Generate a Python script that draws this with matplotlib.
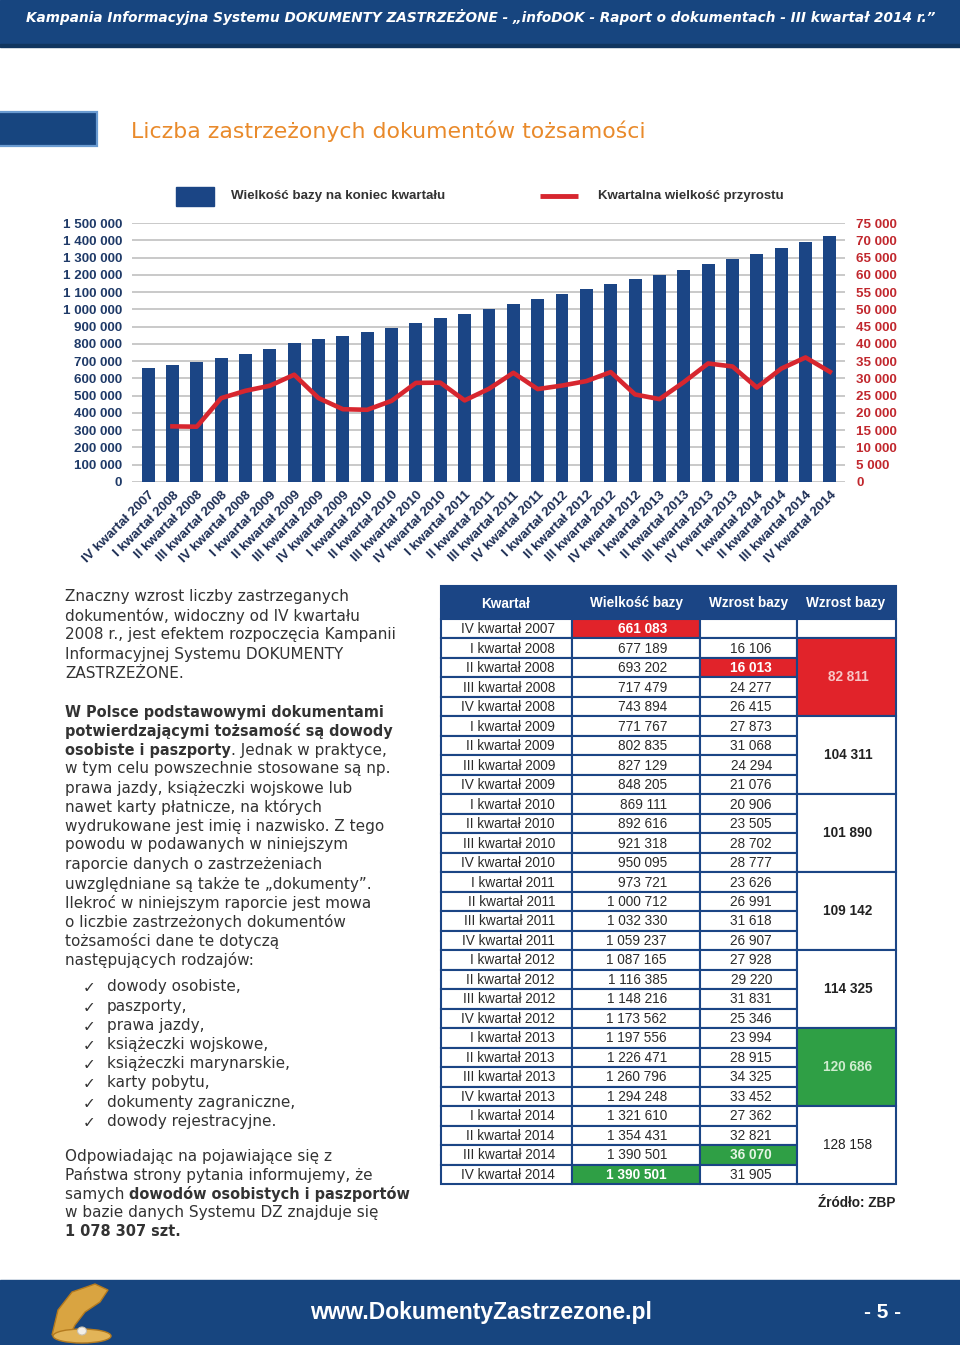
import matplotlib
matplotlib.use("Agg")
import matplotlib.pyplot as plt
from matplotlib.patches import Rectangle, Ellipse, Polygon
from matplotlib.ticker import FuncFormatter
import numpy as np

plt.rcParams['font.family'] = ['Liberation Sans', 'DejaVu Sans']

# ---------------- data ----------------
quarters = ["IV kwartał 2007",
            "I kwartał 2008", "II kwartał 2008", "III kwartał 2008", "IV kwartał 2008",
            "I kwartał 2009", "II kwartał 2009", "III kwartał 2009", "IV kwartał 2009",
            "I kwartał 2010", "II kwartał 2010", "III kwartał 2010", "IV kwartał 2010",
            "I kwartał 2011", "II kwartał 2011", "III kwartał 2011", "IV kwartał 2011",
            "I kwartał 2012", "II kwartał 2012", "III kwartał 2012", "IV kwartał 2012",
            "I kwartał 2013", "II kwartał 2013", "III kwartał 2013", "IV kwartał 2013",
            "I kwartał 2014", "II kwartał 2014", "III kwartał 2014", "IV kwartał 2014"]
chart_base = [661083, 677189, 693202, 717479, 743894, 771767, 802835, 827129, 848205,
              869111, 892616, 921318, 950095, 973721, 1000712, 1032330, 1059237,
              1087165, 1116385, 1148216, 1173562, 1197556, 1226471, 1260796, 1294248,
              1321610, 1354431, 1390501, 1422406]
table_base = [661083, 677189, 693202, 717479, 743894, 771767, 802835, 827129, 848205,
              869111, 892616, 921318, 950095, 973721, 1000712, 1032330, 1059237,
              1087165, 1116385, 1148216, 1173562, 1197556, 1226471, 1260796, 1294248,
              1321610, 1354431, 1390501, 1390501]
growth = [None, 16106, 16013, 24277, 26415, 27873, 31068, 24294, 21076, 20906, 23505,
          28702, 28777, 23626, 26991, 31618, 26907, 27928, 29220, 31831, 25346, 23994,
          28915, 34325, 33452, 27362, 32821, 36070, 31905]
annual_growth = [82811, 104311, 101890, 109142, 114325, 120686, 128158]
left_ticks = list(range(0, 1500001, 100000))
right_ticks = list(range(0, 75001, 5000))
table_header = ["Kwartał", "Wielkość bazy", "Wzrost bazy", "Wzrost bazy"]

# ---------------- colours ----------------
NAVY = '#1b4585'
BAND = '#17457f'
RED_LINE = '#d7262f'
RED_CELL = '#e1232a'
GREEN_CELL = '#2f9f45'
ORANGE = '#e98a2b'
TXT = '#333333'
LEFT_TXT = '#1f3a68'
RIGHT_TXT = '#c1272d'
XLBL = '#1e2f55'
BODY_FONT = ['DejaVu Sans']

W, H = 960, 1345
fig = plt.figure(figsize=(W / 100, H / 100), dpi=100)
fig.patch.set_facecolor('white')
bg = fig.add_axes([0, 0, 1, 1], zorder=0)
bg.set_xlim(0, W)
bg.set_ylim(H, 0)
bg.axis('off')
renderer = fig.canvas.get_renderer()


def fmt(v):
    return f"{int(round(v)):,}".replace(",", " ")


def measure(s, size, **kw):
    t = bg.text(0, 0, s, fontsize=size, **kw)
    w = t.get_window_extent(renderer=renderer).width
    t.remove()
    return w


def fit_text(x, y, s, target_w, **kw):
    w = measure(s, 10, **{k: v for k, v in kw.items() if k in ('fontweight', 'family', 'fontstyle')})
    size = 10 * target_w / w
    return bg.text(x, y, s, fontsize=size, **kw)


# ---------------- header band ----------------
bg.add_patch(Rectangle((0, 0), W, 46, color=BAND, zorder=1))
bg.add_patch(Rectangle((0, 44), W, 3, color='#10355f', zorder=1))
fit_text(26, 17, "Kampania Informacyjna Systemu DOKUMENTY ZASTRZEŻONE - „infoDOK - Raport o dokumentach - III kwartał 2014 r.”",
         904, family=['DejaVu Sans'], fontstyle='italic', fontweight='bold', color='white',
         ha='left', va='center', zorder=2)

# ---------------- title ----------------
bg.add_patch(Rectangle((-2, 112), 99, 34, facecolor=BAND, edgecolor='#6a9bd1', lw=1.6, zorder=1))
fit_text(131, 131, "Liczba zastrzeżonych dokumentów tożsamości", 514,
         family=['DejaVu Sans'], color=ORANGE, ha='left', va='center', zorder=2)

# ---------------- legend ----------------
bg.add_patch(Rectangle((176, 187), 38, 19, color=NAVY, zorder=2))
fit_text(231, 196, "Wielkość bazy na koniec kwartału", 214, fontweight='bold',
         color=TXT, ha='left', va='center')
bg.plot([540, 578], [196, 196], color=RED_LINE, lw=3.5, solid_capstyle='butt')
fit_text(598, 196, "Kwartalna wielkość przyrostu", 187, fontweight='bold',
         color=TXT, ha='left', va='center')

# ---------------- chart ----------------
ax = fig.add_axes([132 / W, 1 - 482 / H, (845 - 132) / W, (482 - 223) / H], zorder=2)
ax.patch.set_alpha(0)
x = np.arange(len(quarters))
ax.bar(x, chart_base, width=0.53, color=NAVY, zorder=3)
ax.set_xlim(-0.66, 28.62)
ax.set_ylim(0, 1500000)
ax.set_yticks(left_ticks)
ax.yaxis.set_major_formatter(FuncFormatter(lambda v, p: fmt(v)))
ax.grid(axis='y', color='#c9c9c9', lw=1.4, zorder=0)
ax.set_axisbelow(True)
for s in ax.spines.values():
    s.set_visible(False)
ax.tick_params(axis='y', length=0, pad=7, labelsize=9.6, labelcolor=LEFT_TXT)
for lbl in ax.get_yticklabels():
    lbl.set_fontweight('bold')
ax.set_xticks(x)
ax.set_xticklabels(quarters, rotation=45, ha='right', rotation_mode='anchor',
                   fontsize=9.6, fontweight='bold', color=XLBL)
ax.tick_params(axis='x', length=0, pad=5)

ax2 = ax.twinx()
gx = [i for i, g in enumerate(growth) if g is not None]
gy = [g for g in growth if g is not None]
ax2.plot(gx, gy, color=RED_LINE, lw=3.3, solid_joinstyle='round', zorder=4)
ax2.set_ylim(0, 75000)
ax2.set_yticks(right_ticks)
ax2.yaxis.set_major_formatter(FuncFormatter(lambda v, p: fmt(v)))
for s in ax2.spines.values():
    s.set_visible(False)
ax2.tick_params(axis='y', length=0, pad=8, labelsize=9.6, labelcolor=RIGHT_TXT)
for lbl in ax2.get_yticklabels():
    lbl.set_fontweight('bold')

# ---------------- table ----------------
col_x = [441, 572, 700, 797, 896]
head_top, head_bot = 586, 619
row_h = (1184 - head_bot) / len(quarters)
TFS = 9.8
bg.add_patch(Rectangle((col_x[0], head_top), col_x[-1] - col_x[0], head_bot - head_top,
                       facecolor=NAVY, edgecolor=NAVY, lw=1.5, zorder=2))
head_cx = [506, 636, 749, 846]
for cx, h in zip(head_cx, table_header):
    bg.text(cx, (head_top + head_bot) / 2 + 1, h, color='white', fontsize=TFS, fontweight='bold',
            ha='center', va='center', zorder=3)

highlight = {(0, 1): (RED_CELL, 'white'), (2, 2): (RED_CELL, 'white'),
             (27, 2): (GREEN_CELL, '#e4f5e4'), (28, 1): (GREEN_CELL, 'white')}
right_edge = {0: 555, 1: 667, 2: 772}
for r, q in enumerate(quarters):
    y0 = head_bot + r * row_h
    yc = y0 + row_h / 2
    vals = [q, fmt(table_base[r]), fmt(growth[r]) if growth[r] is not None else ""]
    for c in range(3):
        fc, tc = highlight.get((r, c), ('white', '#2b2b2b'))
        bg.add_patch(Rectangle((col_x[c], y0), col_x[c + 1] - col_x[c], row_h,
                               facecolor=fc, edgecolor=NAVY, lw=1.5, zorder=2))
        bg.text(right_edge[c], yc + 0.5, vals[c], color=tc, fontsize=TFS,
                fontweight='bold' if (r, c) in highlight else 'normal',
                ha='right', va='center', zorder=3)

# merged annual cells
bg.add_patch(Rectangle((col_x[3], head_bot), col_x[4] - col_x[3], row_h,
                       facecolor='white', edgecolor=NAVY, lw=1.5, zorder=2))
group_style = [(RED_CELL, '#f7c6c6', 'bold'), ('white', '#222222', 'bold'),
               ('white', '#222222', 'bold'), ('white', '#222222', 'bold'),
               ('white', '#222222', 'bold'), (GREEN_CELL, '#cfeccf', 'bold'),
               ('white', '#222222', 'normal')]
for g, val in enumerate(annual_growth):
    y0 = head_bot + (1 + 4 * g) * row_h
    fc, tc, fw = group_style[g]
    bg.add_patch(Rectangle((col_x[3], y0), col_x[4] - col_x[3], 4 * row_h,
                           facecolor=fc, edgecolor=NAVY, lw=1.5, zorder=2))
    bg.text(848, y0 + 2 * row_h, fmt(val), color=tc, fontsize=TFS, fontweight=fw,
            ha='center', va='center', zorder=3)

bg.text(895, 1203, "Źródło: ZBP", fontsize=TFS, fontweight='bold', color='#222222',
        ha='right', va='center')

# ---------------- body text ----------------
BFS = 10 * 330 / measure("2008 r., jest efektem rozpoczęcia Kampanii", 10, family=BODY_FONT)
BFS_fit = 10 * 311 / measure("potwierdzającymi tożsamość są dowody", 10, family=BODY_FONT,
                             fontweight='bold')
BFS_B = 0.5 * (BFS + BFS_fit)


def runs(x0, y, parts):
    cx = x0
    for s, bold in parts:
        fw = 'bold' if bold else 'normal'
        fs = BFS_B if bold else BFS
        bg.text(cx, y, s, fontsize=fs, fontweight=fw, family=BODY_FONT, color=TXT,
                ha='left', va='center')
        cx += measure(s + '|', fs, family=BODY_FONT, fontweight=fw) - \
            measure('|', fs, family=BODY_FONT, fontweight=fw)


lines = [
    (597, [("Znaczny wzrost liczby zastrzeganych", False)]),
    (616, [("dokumentów, widoczny od IV kwartału", False)]),
    (635, [("2008 r., jest efektem rozpoczęcia Kampanii", False)]),
    (654, [("Informacyjnej Systemu DOKUMENTY", False)]),
    (673, [("ZASTRZEŻONE.", False)]),
    (712, [("W Polsce podstawowymi dokumentami", True)]),
    (731, [("potwierdzającymi tożsamość są dowody", True)]),
    (750, [("osobiste i paszporty", True), (". Jednak w praktyce,", False)]),
    (769, [("w tym celu powszechnie stosowane są np.", False)]),
    (788, [("prawa jazdy, książeczki wojskowe lub", False)]),
    (807, [("nawet karty płatnicze, na których", False)]),
    (826, [("wydrukowane jest imię i nazwisko. Z tego", False)]),
    (845, [("powodu w podawanych w niniejszym", False)]),
    (864, [("raporcie danych o zastrzeżeniach", False)]),
    (884, [("uwzględniane są także te „dokumenty”.", False)]),
    (903, [("Ilekroć w niniejszym raporcie jest mowa", False)]),
    (922, [("o liczbie zastrzeżonych dokumentów", False)]),
    (941, [("tożsamości dane te dotyczą", False)]),
    (960, [("następujących rodzajów:", False)]),
    (1156, [("Odpowiadając na pojawiające się z", False)]),
    (1175, [("Państwa strony pytania informujemy, że", False)]),
    (1194, [("samych ", False), ("dowodów osobistych i paszportów", True)]),
    (1213, [("w bazie danych Systemu DZ znajduje się", False)]),
    (1232, [("1 078 307 szt.", True)]),
]
for y, parts in lines:
    runs(65, y, parts)

bullets = ["dowody osobiste,", "paszporty,", "prawa jazdy,", "książeczki wojskowe,",
           "książeczki marynarskie,", "karty pobytu,", "dokumenty zagraniczne,",
           "dowody rejestracyjne."]
for i, b in enumerate(bullets):
    y = 987 + i * 19.2
    bg.text(83, y + 1, "✓", fontsize=BFS * 1.0, family=BODY_FONT, color=TXT, ha='left', va='center')
    bg.text(107, y, b, fontsize=BFS, family=BODY_FONT, color=TXT, ha='left', va='center')

# ---------------- footer ----------------
bg.add_patch(Rectangle((0, 1280), W, 65, color=BAND, zorder=1))
fit_text(481, 1313, "www.DokumentyZastrzezone.pl", 342, fontweight='bold', color='white',
         ha='center', va='center', zorder=2)
bg.text(883, 1313, "- 5 -", fontsize=15, fontweight='bold', color='white',
        ha='center', va='center', zorder=2)
# shell ornament
bg.add_patch(Polygon([[52, 1335], [58, 1310], [72, 1292], [95, 1284], [108, 1290],
                      [100, 1302], [85, 1312], [75, 1325], [70, 1335]],
                     closed=True, facecolor='#d9a441', edgecolor='#b47a1e', lw=1, zorder=2))
bg.add_patch(Ellipse((82, 1336), 58, 14, facecolor='#e2b458', edgecolor='#b47a1e', lw=1, zorder=2))
bg.add_patch(Ellipse((82, 1331), 9, 8, facecolor='#f2efe8', edgecolor='#c8c0b0', lw=0.8, zorder=3))

fig.savefig("out.png", dpi=100)
